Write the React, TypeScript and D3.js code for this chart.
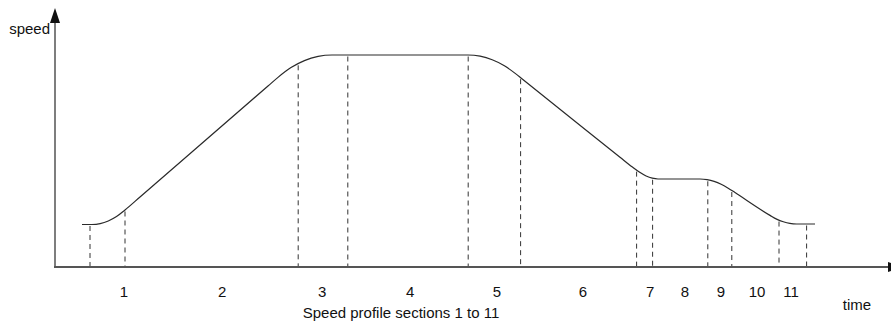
import React from "react";
import * as d3 from "d3";

// Speed profile key points (time units, speed in % of top speed)
const profileTime = [3.375, 4.625, 5.65, 6.66, 7.69, 8.75, 10.625, 26.625, 27.875, 29.5, 31.175, 32.89, 34.625, 51.625, 53.14, 54.65, 56.175, 57.69, 58.25, 70.625, 72.125, 73.04, 73.89, 74.66, 75.375, 80.625, 81.5, 82.39, 83.27, 84.15, 85.0, 89.375, 90.2, 91.04, 91.86, 92.7, 95.0];
const profileSpeed = [20.05, 20.05, 20.47, 21.7, 23.77, 26.89, 33.02, 85.38, 89.46, 94.06, 97.36, 99.34, 100, 100, 99.43, 97.74, 94.91, 90.85, 89.15, 51.79, 47.26, 44.76, 42.92, 41.89, 41.51, 41.51, 41.23, 40.42, 39.06, 37.17, 35.09, 24.36, 22.59, 21.32, 20.54, 20.28, 20.28];

// Section boundaries (dashed lines)
const boundaryTimes = [4.375, 8.75, 30.4, 36.6, 51.65, 58.2, 72.7, 74.7, 81.6, 84.6, 90.5, 93.95];

// Section labels and their positions on the time axis
const sectionLabels = ["1", "2", "3", "4", "5", "6", "7", "8", "9", "10", "11"];
const labelTimes = [8.6, 20.9, 33.4, 44.4, 55.25, 66.0, 74.4, 78.75, 83.25, 87.75, 92.0];

const yAxisTitle = "speed";
const xAxisTitle = "time";
const caption = "Speed profile sections 1 to 11";

export default function App() {
  const W = 891;
  const H = 331;
  const x = d3.scaleLinear().domain([0, 104.5]).range([55, 891]);
  const y = d3.scaleLinear().domain([0, 100]).range([267, 55]);
  const speedAt = d3.scaleLinear().domain(profileTime).range(profileSpeed).clamp(true);

  const pts: [number, number][] = profileTime.map((t, i) => [t, profileSpeed[i]]);
  const line = d3
    .line<[number, number]>()
    .x((d) => x(d[0]))
    .y((d) => y(d[1]))
    .curve(d3.curveMonotoneX);

  const font = "'Liberation Sans', Arial, Helvetica, sans-serif";
  const x0 = x(0);
  const y0 = y(0);
  const xEnd = x(104.5);

  return (
    <svg
      width={W}
      height={H}
      style={{ position: "absolute", left: 0, top: 0, background: "#fff" }}
      fontFamily={font}
    >
      <rect x={0} y={0} width={W} height={H} fill="#fff" />
      {/* dashed section boundaries */}
      {boundaryTimes.map((t, i) => (
        <line
          key={"b" + i}
          x1={x(t)}
          x2={x(t)}
          y1={y(speedAt(t)) + 1.5}
          y2={y0}
          stroke="#333"
          strokeWidth={1}
          strokeDasharray="5,4"
        />
      ))}
      {/* speed profile */}
      <path d={line(pts) || ""} fill="none" stroke="#2a2a2a" strokeWidth={1.2} />
      {/* axes */}
      <line x1={x0} x2={x0} y1={y0} y2={20} stroke="#707070" strokeWidth={1.8} />
      <path d={`M${x0},8 L${x0 + 5},23 L${x0 - 5},23 Z`} fill="#111" />
      <line x1={x0 - 1} x2={xEnd} y1={y0} y2={y0} stroke="#555" strokeWidth={1.8} />
      <path d={`M${xEnd + 12},${y0} L${xEnd - 3},${y0 - 5} L${xEnd - 3},${y0 + 5} Z`} fill="#111" />
      {/* labels */}
      <text x={50} y={34} fontSize={15} textAnchor="end" fill="#111">
        {yAxisTitle}
      </text>
      <text x={857} y={310} fontSize={15} textAnchor="middle" fill="#111">
        {xAxisTitle}
      </text>
      {sectionLabels.map((s, i) => (
        <text key={"l" + i} x={x(labelTimes[i])} y={297} fontSize={15} textAnchor="middle" fill="#111">
          {s}
        </text>
      ))}
      <text x={401} y={318} fontSize={15} textAnchor="middle" fill="#111">
        {caption}
      </text>
    </svg>
  );
}
